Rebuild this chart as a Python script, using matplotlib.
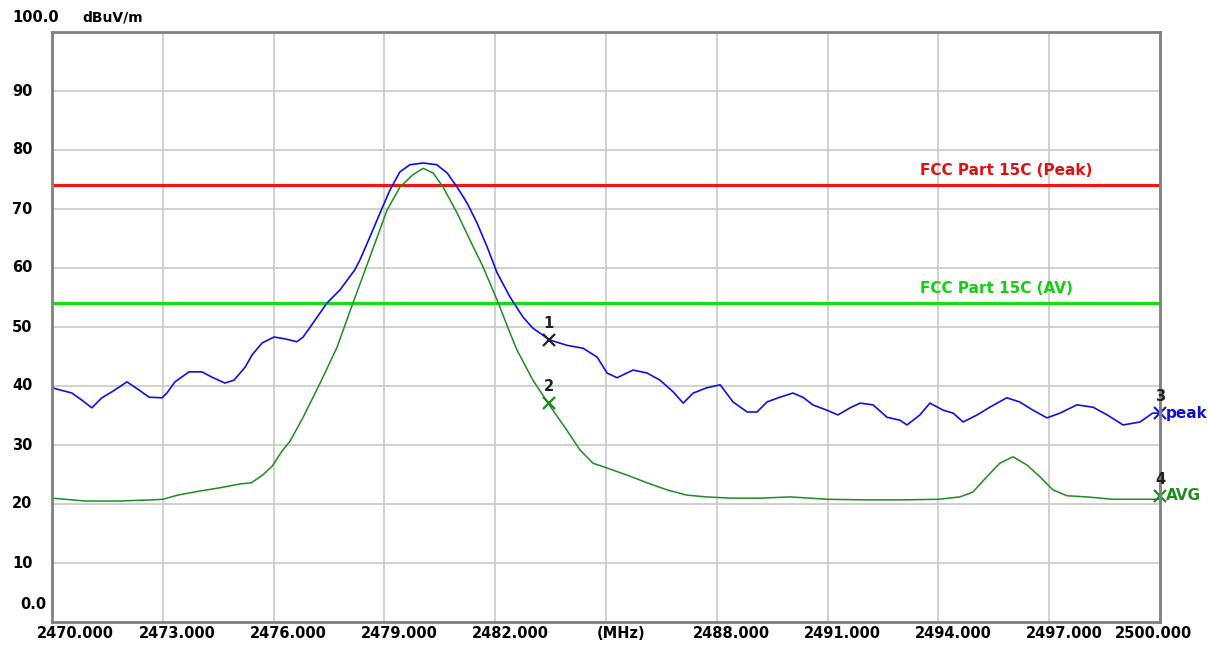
import numpy as np
import matplotlib
matplotlib.use("Agg")
import matplotlib.pyplot as plt
from matplotlib.transforms import offset_copy

# Peak trace (MHz, dBuV/m)
peak_f = [2470.0, 2470.54, 2470.81, 2471.08, 2471.35, 2471.62, 2472.03, 2472.36, 2472.63,
          2472.98, 2473.11, 2473.33, 2473.71, 2474.06, 2474.33, 2474.68, 2474.93, 2475.23,
          2475.42, 2475.69, 2476.01, 2476.3, 2476.63, 2476.8, 2477.07, 2477.45, 2477.8,
          2478.2, 2478.34, 2478.61, 2478.88, 2479.15, 2479.42, 2479.69, 2480.05, 2480.42,
          2480.7, 2480.97, 2481.24, 2481.51, 2481.78, 2482.05, 2482.4, 2482.75, 2483.02,
          2483.48, 2483.94, 2484.38, 2484.76, 2485.03, 2485.3, 2485.73, 2486.11, 2486.46,
          2486.82, 2487.09, 2487.36, 2487.73, 2488.09, 2488.44, 2488.82, 2489.09, 2489.36,
          2489.71, 2490.06, 2490.33, 2490.6, 2490.98, 2491.28, 2491.61, 2491.88, 2492.23,
          2492.61, 2492.96, 2493.15, 2493.5, 2493.77, 2494.13, 2494.4, 2494.67, 2495.05,
          2495.39, 2495.85, 2496.2, 2496.56, 2496.94, 2497.29, 2497.75, 2498.19, 2498.57,
          2499.0, 2499.46, 2499.8, 2500.0]
peak_v = [39.7, 38.8, 37.6, 36.3, 38.0, 39.0, 40.7, 39.3, 38.1,
          38.0, 38.8, 40.7, 42.4, 42.4, 41.5, 40.5, 41.0, 43.2,
          45.3, 47.3, 48.3, 48.0, 47.5, 48.3, 50.7, 54.1, 56.3,
          59.7, 61.4, 65.3, 69.3, 73.2, 76.3, 77.5, 77.8, 77.5,
          76.1, 73.7, 71.0, 67.6, 63.6, 59.2, 55.1, 51.7, 49.8,
          47.8, 46.9, 46.4, 44.9, 42.2, 41.4, 42.7, 42.2, 41.0,
          39.0, 37.1, 38.8, 39.7, 40.2, 37.3, 35.6, 35.6, 37.3,
          38.1, 38.8, 38.1, 36.8, 35.9, 35.1, 36.3, 37.1, 36.8,
          34.7, 34.2, 33.4, 35.1, 37.1, 35.9, 35.4, 33.9, 35.1,
          36.4, 38.0, 37.3, 35.9, 34.6, 35.4, 36.8, 36.4, 35.1,
          33.4, 33.9, 35.4, 35.4]

# Average trace
avg_f = [2470.0, 2470.9, 2471.8, 2472.7, 2473.0, 2473.4, 2474.0, 2474.5, 2475.1, 2475.4,
         2475.7, 2475.96, 2476.23, 2476.44, 2476.8, 2477.26, 2477.72, 2478.15, 2478.61,
         2479.07, 2479.42, 2479.77, 2480.05, 2480.32, 2480.59, 2480.97, 2481.32, 2481.67,
         2482.05, 2482.4, 2482.59, 2483.02, 2483.43, 2483.94, 2484.29, 2484.65, 2485.03,
         2485.57, 2486.11, 2486.65, 2487.19, 2487.73, 2488.36, 2489.2, 2490.0, 2491.0,
         2492.0, 2493.0, 2494.0, 2494.58, 2494.93, 2495.31, 2495.66, 2496.02, 2496.4,
         2496.75, 2497.1, 2497.48, 2498.02, 2498.73, 2500.0]
avg_v = [21.0, 20.5, 20.5, 20.7, 20.8, 21.5, 22.2, 22.7, 23.4, 23.6,
         24.9, 26.4, 29.0, 30.6, 34.7, 40.5, 46.6, 54.1, 61.9,
         69.8, 73.7, 75.8, 76.9, 76.1, 73.7, 69.3, 64.7, 60.2,
         54.6, 49.0, 46.1, 41.0, 37.1, 32.5, 29.2, 26.9, 26.1,
         24.9, 23.6, 22.4, 21.5, 21.2, 21.0, 21.0, 21.2, 20.8,
         20.7, 20.7, 20.8, 21.2, 22.0, 24.6, 26.9, 28.0, 26.6,
         24.6, 22.4, 21.4, 21.2, 20.8, 20.8]

# Limits
limit_peak = 74.0
limit_av = 54.0

# Markers
mk_num = ["1", "2", "3", "4"]
mk_f = [2483.45, 2483.45, 2500.0, 2500.0]
mk_v = [47.8, 37.1, 35.4, 21.4]
mk_col = ["#202020", "#1a8a1a", "#2020c0", "#1a8a1a"]

xticks = np.arange(2470, 2501, 3)
xlabels = ["%.3f" % t for t in xticks]
xlabels[5] = "(MHz)"
yticks = np.arange(0, 101, 10)
ylabels = [str(t) for t in yticks]
ylabels[0] = "0.0"
ylabels[-1] = "100.0"

fig = plt.figure(figsize=(12.09, 6.46), dpi=100)
ax = fig.add_axes([52 / 1209, 1 - 622 / 646, 1108 / 1209, 590 / 646])
ax.set_xlim(2470, 2500)
ax.set_ylim(0, 100)
ax.set_xticks(xticks)
ax.set_yticks(yticks)
ax.tick_params(length=0, labelbottom=False, labelleft=False)
ax.grid(True, color="#c8c8c8", lw=1.2)
for s in ax.spines.values():
    s.set_color("#808080")
    s.set_linewidth(2)

ax.axhline(limit_peak, color="#ff1010", lw=2.2)
ax.axhline(limit_av, color="#10e010", lw=2.2)
ax.plot(avg_f, avg_v, color="#1f8c1f", lw=1.1)
ax.plot(peak_f, peak_v, color="#1010e0", lw=1.2)

ax.text(2493.5, limit_peak + 1.2, "FCC Part 15C (Peak)", color="#e01010",
        fontsize=11, fontweight="bold", va="bottom")
ax.text(2493.5, limit_av + 1.2, "FCC Part 15C (AV)", color="#10d010",
        fontsize=11, fontweight="bold", va="bottom")

for n, f, v, c in zip(mk_num, mk_f, mk_v, mk_col):
    ax.plot(f, v, marker="x", color=c, ms=8, mew=1.6, clip_on=False)
    ax.text(f, v + 1.5, n, color="#202020", fontsize=10.5, fontweight="bold",
            ha="center", va="bottom")

ax.text(2500.15, mk_v[2], "peak", color="#1010d0", fontsize=11,
        fontweight="bold", va="center")
ax.text(2500.15, mk_v[3], "AVG", color="#1f8c1f", fontsize=11,
        fontweight="bold", va="center")

# x tick labels, shifted like the analyser print
for i, (t, lab) in enumerate(zip(xticks, xlabels)):
    dx = 15
    if i == 0:
        dx = 23
    elif i == len(xticks) - 1:
        dx = -7
    tr = offset_copy(ax.get_xaxis_transform(), fig=fig, x=dx * 0.72, y=0, units="points")
    ax.text(t, -0.02, lab, transform=tr, ha="center", va="center",
            fontsize=10.5, fontweight="bold", clip_on=False)

# y tick labels
ytr = ax.get_yaxis_transform()
for t, lab in zip(yticks, ylabels):
    if t == 0:
        ax.text(-0.0289, 2.9, lab, transform=ytr, ha="left", va="center",
                fontsize=10.5, fontweight="bold")
    elif t == 100:
        ax.text(-0.0361, 102.4, lab, transform=ytr, ha="left", va="center",
                fontsize=10.5, fontweight="bold")
    else:
        ax.text(-0.0361, t, lab, transform=ytr, ha="left", va="center",
                fontsize=10.5, fontweight="bold")
ax.text(0.027, 102.4, "dBuV/m", transform=ytr, ha="left", va="center",
        fontsize=10, fontweight="bold")

fig.savefig("out.png", dpi=100, facecolor="white")
